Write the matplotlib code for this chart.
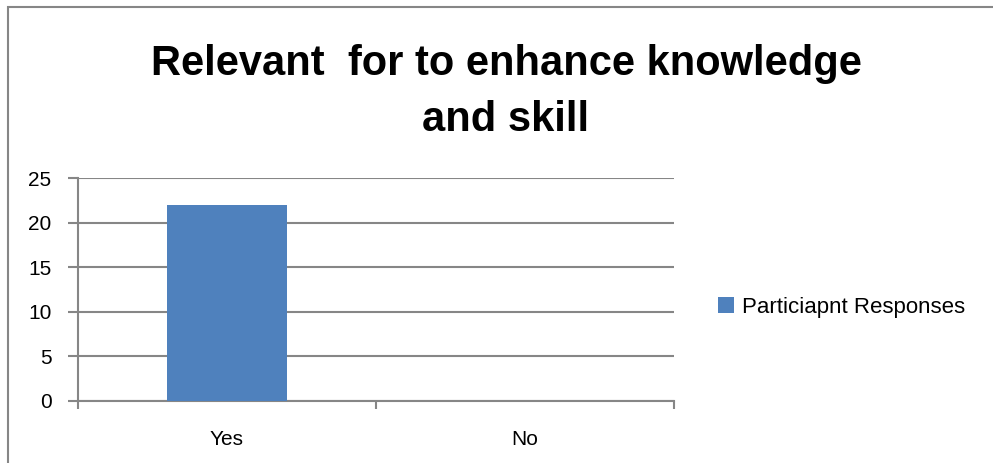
import matplotlib.pyplot as plt
from matplotlib.patches import Rectangle

# data
categories = ['Yes', 'No']
responses = [22, 0]
series_name = 'Particiapnt Responses'
title = 'Relevant  for to enhance knowledge\nand skill'

W, H = 993, 463
fig = plt.figure(figsize=(W / 100, H / 100), dpi=100)
plt.rcParams['font.family'] = ['Liberation Sans', 'DejaVu Sans']

# outer chart border (only left/top visible in the crop)
fig.add_artist(Rectangle((8 / W, -0.1), 1.2, 1 - 7 / H + 0.1, transform=fig.transFigure,
                         fill=False, edgecolor='#868686', linewidth=1.5))

ax = fig.add_axes([78 / W, 1 - 401 / H, (674 - 78) / W, (401 - 178) / H])
x = range(len(categories))
ax.bar(x, responses, width=0.4, color='#4F81BD', label=series_name, zorder=3)

ax.set_xlim(-0.5, len(categories) - 0.5)
ax.set_ylim(0, 25)
ax.set_yticks(range(0, 26, 5))
ax.grid(axis='y', color='#868686', linewidth=1.5, zorder=0)
ax.set_xticks(x)
ax.set_xticklabels(categories, fontsize=15)
ax.tick_params(axis='x', length=0, pad=21)
ax.set_xticks([-0.5, 0.5, 1.5], minor=True)
ax.tick_params(axis='x', which='minor', length=6, color='#868686', width=1.5)
ax.tick_params(axis='y', labelsize=15, length=7, color='#868686', width=1.5, pad=12)

for side in ['top', 'right']:
    ax.spines[side].set_visible(False)
for side in ['left', 'bottom']:
    ax.spines[side].set_color('#868686')
    ax.spines[side].set_linewidth(1.5)

fig.text(506 / W, 1 - 92 / H, title, ha='center', va='center', fontsize=30,
         fontweight='bold', linespacing=1.5)

fig.legend(loc='center left', bbox_to_anchor=(698 / W, 1 - 307 / H), frameon=False,
           fontsize=16, handlelength=0.7, handleheight=0.7, handletextpad=0.4)

fig.savefig('out.png', dpi=100)
